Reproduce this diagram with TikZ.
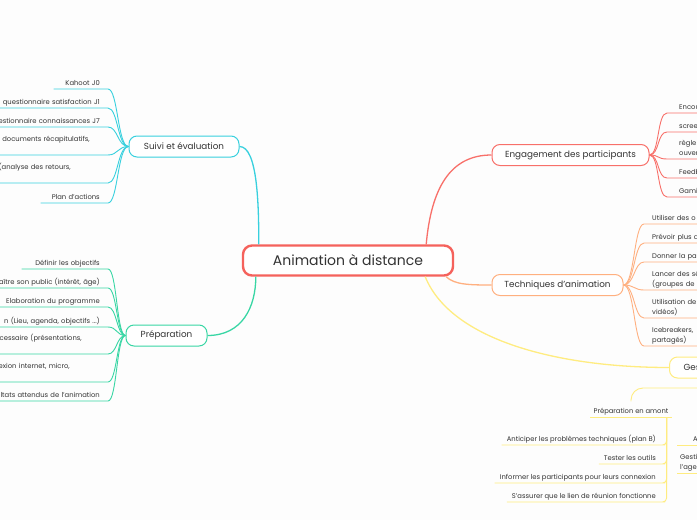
\documentclass[tikz,border=0pt]{standalone}
\usepackage{fontspec}
\setmainfont{Poppins}
\definecolor{txt}{RGB}{51,51,51}
\definecolor{rootc}{RGB}{245,98,92}
\definecolor{suic}{RGB}{56,208,222}
\definecolor{prec}{RGB}{56,214,164}
\definecolor{engc}{RGB}{248,112,106}
\definecolor{tecc}{RGB}{255,176,128}
\definecolor{gesc}{RGB}{255,236,128}
\definecolor{bg}{RGB}{253,253,253}
\begin{document}
\begin{tikzpicture}[x=1pt,y=-1pt,every node/.style={text=txt,inner sep=0},
	root/.style={draw=rootc,line width=2.4,fill=white,rounded corners=9,minimum width=210,minimum height=30,font=\fontsize{14}{16}\selectfont},
	branch/.style={draw=#1,line width=1,fill=white,rounded corners=8,minimum height=21,font=\fontsize{8.8}{10}\selectfont},
	lleaf/.style={anchor=south east,align=right,inner xsep=8,inner ysep=2,text depth=1.8,font=\fontsize{6.8}{9.2}\selectfont},
	rleaf/.style={anchor=south west,align=left,inner xsep=8,inner ysep=2,text depth=1.8,font=\fontsize{6.8}{9.2}\selectfont},
	two/.style={text depth=11},
	link/.style={draw=#1,line width=1.3},
	twig/.style={draw=#1,line width=0.9}]
\useasboundingbox (0,0) rectangle (697,520);
\clip (0,0) rectangle (697,520);
\fill[bg] (0,0) rectangle (697,520);

\node[root] (root) at (348,260.5) {Animation à distance};
\node[branch=suic,minimum width=110] (suivi) at (184,146.5) {Suivi et évaluation};
\node[branch=prec,minimum width=81] (prep) at (166.5,335.5) {Préparation};
\node[branch=engc,minimum width=157] (eng) at (570.5,155) {Engagement des participants};
\node[branch=tecc,minimum width=131] (tech) at (557.5,285) {Techniques d'animation};
\node[branch=gesc,anchor=west,text width=100,align=left,inner xsep=14] (gest) at (669,367.5) {Ges};

\draw[link=suic] (suivi.east) .. controls +(18,0) and +(0,-40) .. ([xshift=17]root.north west);
\draw[link=prec] (prep.east) .. controls +(35,0) and +(0,30) .. ([xshift=14]root.south west);
\draw[link=engc] ([xshift=-28]root.north east) .. controls +(5,-55) and +(-42,0) .. (eng.west);
\draw[link=tecc] ([xshift=-8]root.south east) .. controls +(8,8) and +(-22,0) .. (tech.west);
\draw[link=gesc] ([xshift=-29]root.south east) .. controls +(26,64) and +(-110,0) .. (gest.west);

\node[lleaf,text width=38] (s1) at (108,89) {Kahoot J0};
\node[lleaf,text width=130] (s2) at (108,108) {questionnaire satisfaction J1};
\node[lleaf,text width=130] (s3) at (108,127) {estionnaire connaissances J7};
\node[lleaf,two,text width=130] (s4) at (108,155) {documents récapitulatifs,\rule{10pt}{0pt}\\\mbox{}};
\node[lleaf,two,text width=130] (s5) at (108,183) {(analyse des retours,\rule{29pt}{0pt}\\\mbox{}};
\node[lleaf,text width=51] (s6) at (108,203) {Plan d'actions};
\foreach \n in {s1,s2,s3,s4,s5,s6}
	\draw[twig=suic] (\n.south west) -- (\n.south east) .. controls +(10,0) and +(-11,0) .. (suivi.west);

\node[lleaf,text width=70] (p1) at (108,269) {Définir les objectifs};
\node[lleaf,text width=130] (p2) at (108,288) {aître son public (intérêt, âge)};
\node[lleaf,text width=130] (p3) at (108,307) {Elaboration du programme};
\node[lleaf,text width=130] (p4) at (108,327) {n (Lieu, agenda, objectifs ...)};
\node[lleaf,two,text width=130] (p5) at (108,354) {ecessaire (présentations,\rule{18pt}{0pt}\\\mbox{}};
\node[lleaf,two,text width=130] (p6) at (108,382) {exion internet, micro,\rule{30pt}{0pt}\\\mbox{}};
\node[lleaf,text width=130] (p7) at (108,401) {ltats attendus de l'animation};
\foreach \n in {p1,p2,p3,p4,p5,p6,p7}
	\draw[twig=prec] (\n.south west) -- (\n.south east) .. controls +(9,0) and +(-9,0) .. (prep.west);

\node[rleaf,text width=60,inner xsep=12] (e1) at (667,113) {Encou};
\node[rleaf,text width=60,inner xsep=12] (e2) at (667,132) {scree};
\node[rleaf,two,text width=60,inner xsep=12] (e3) at (667,159) {règle\\ouver};
\node[rleaf,text width=60,inner xsep=12] (e4) at (667,178) {Feedb};
\node[rleaf,text width=60,inner xsep=12] (e5) at (667,197) {Gami};
\foreach \n in {e1,e2,e3,e4,e5}
	\draw[twig=engc] (eng.east) .. controls +(10,0) and +(-10,0) .. (\n.south west) -- (\n.south east);

\node[rleaf,text width=80] (t1) at (644,224) {Utiliser des o};
\node[rleaf,text width=80] (t2) at (644,243) {Prévoir plus d};
\node[rleaf,text width=80] (t3) at (644,262) {Donner la pa};
\node[rleaf,two,text width=80] (t4) at (644,290) {Lancer des sé\\(groupes de d};
\node[rleaf,two,text width=80] (t5) at (644,318) {Utilisation de\\vidéos)};
\node[rleaf,two,text width=80] (t6) at (644,346) {Icebreakers,\\partagés)};
\foreach \n in {t1,t2,t3,t4,t5,t6}
	\draw[twig=tecc] (tech.east) .. controls +(11,0) and +(-10,0) .. (\n.south west) -- (\n.south east);

\coordinate (gsub) at (720,388);
\node[lleaf,anchor=south,inner xsep=3] (pam) at (631,417) {Préparation en amont};
\draw[twig=gesc] (pam.south west) -- (pam.south east);
\draw[twig=gesc,rounded corners=12] (gsub) -| ([yshift=4]pam.north);
\node[lleaf,inner xsep=5] (q1) at (661,445) {Anticiper les problèmes techniques (plan B)};
\node[lleaf,inner xsep=5] (q2) at (661,464) {Tester les outils};
\node[lleaf,inner xsep=5] (q3) at (661,483) {Informer les participants pour leurs connexion};
\node[lleaf,inner xsep=5] (q4) at (661,502) {S'assurer que le lien de réunion fonctionne};
\foreach \n in {q1,q2,q3,q4}
	\draw[twig=gesc,rounded corners=4] (\n.south west) -- (\n.south east) -| ([xshift=-5]pam.south east);

\node[rleaf,text width=40,inner xsep=16] (g1) at (677,445) {A};
\node[rleaf,two,text width=40,inner xsep=3] (g2) at (677,473) {Gesti\\l'age};
\foreach \n in {g1,g2}
	\draw[twig=gesc] (\n.south west) -- (\n.south east);
\end{tikzpicture}
\end{document}
